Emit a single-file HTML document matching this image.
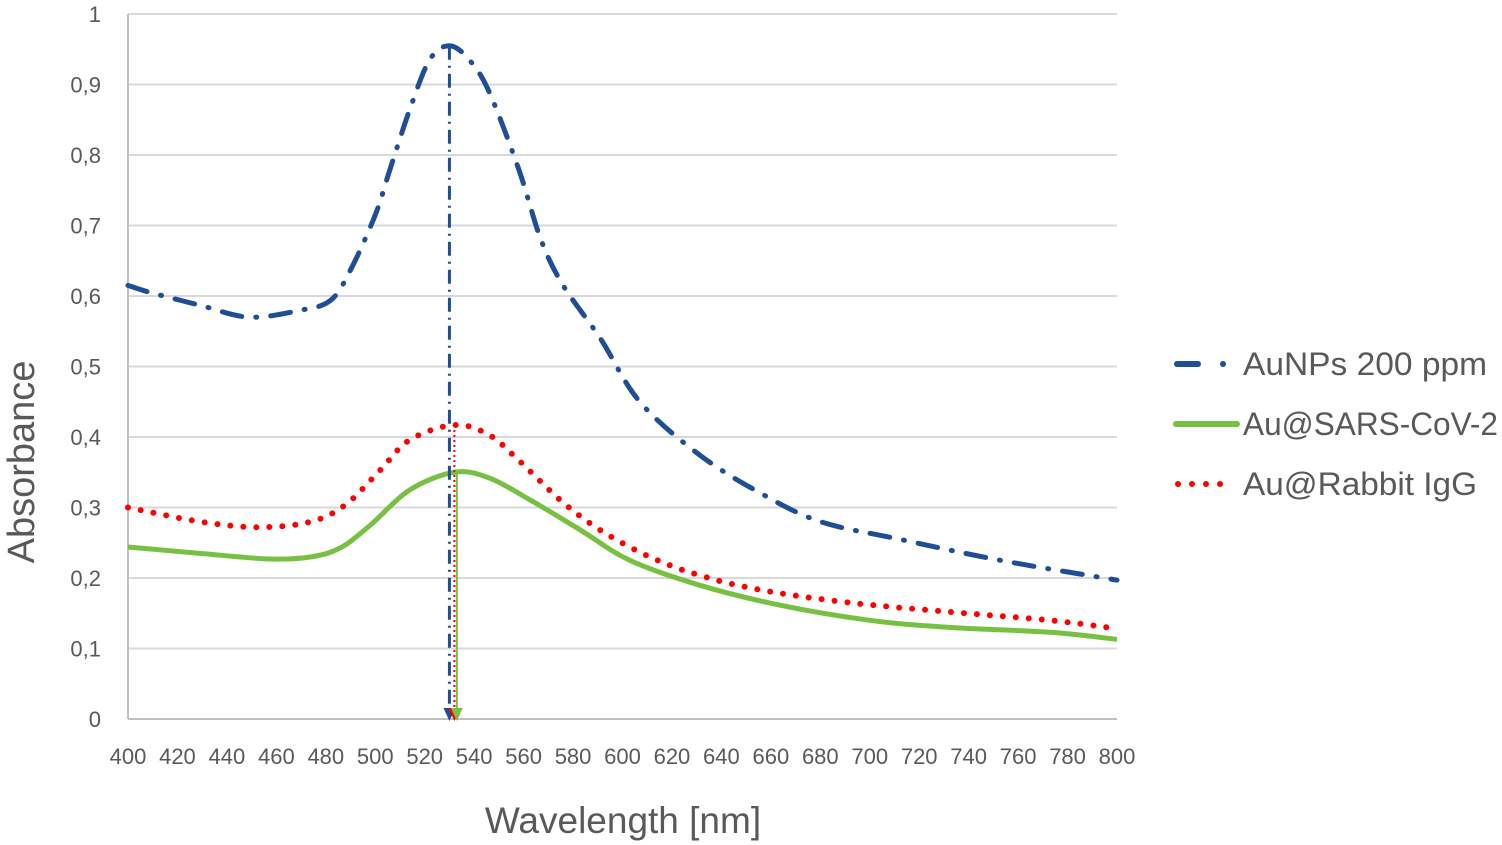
<!DOCTYPE html>
<html><head><meta charset="utf-8"><style>
html,body{margin:0;padding:0;background:#fff;}
svg{display:block;font-family:"Liberation Sans",sans-serif;}
</style></head><body>
<svg id="chart" width="1502" height="845" viewBox="0 0 1502 845">
<g id="grid"></g><g id="ticks"></g><g id="series"></g><g id="markers"></g>
<text x="22" y="462" transform="rotate(-90 22 462)" text-anchor="middle" dominant-baseline="central" font-size="38" fill="#595959">Absorbance</text>
<text x="623" y="833" text-anchor="middle" font-size="37" fill="#595959">Wavelength [nm]</text>
<g>
<g>
<line x1="1177" y1="364" x2="1198" y2="364" stroke="#1f4e96" stroke-width="6" stroke-linecap="round"/>
<circle cx="1223" cy="364" r="3" fill="#1f4e96"/>
<text x="1243" y="375" font-size="32" textLength="244" lengthAdjust="spacingAndGlyphs" fill="#595959">AuNPs 200 ppm</text></g>
<g>
<line x1="1176" y1="424" x2="1237" y2="424" stroke="#77c043" stroke-width="6" stroke-linecap="round"/>
<text x="1243" y="435" font-size="32" textLength="255" lengthAdjust="spacingAndGlyphs" fill="#595959">Au@SARS-CoV-2</text></g>
<g>
<line x1="1178" y1="484" x2="1234" y2="484" stroke="#ff0000" stroke-width="6" stroke-linecap="round" stroke-dasharray="0 14"/>
<text x="1243" y="495" font-size="32" textLength="234" lengthAdjust="spacingAndGlyphs" fill="#595959">Au@Rabbit IgG</text></g>
</g>
</svg>
<script>
const xTicks=[400,420,440,460,480,500,520,540,560,580,600,620,640,660,680,700,720,740,760,780,800];
const yTicks=[0,0.1,0.2,0.3,0.4,0.5,0.6,0.7,0.8,0.9,1];
const yTickLabels=["0","0,1","0,2","0,3","0,4","0,5","0,6","0,7","0,8","0,9","1"];
const blueX=[400,409,429,449,470,482,490,500,506,514,522,530,538,546,558,567,576,591,607,631,656,680,712,753,800];
const blueY=[0.615,0.605,0.587,0.57,0.58,0.594,0.637,0.715,0.78,0.865,0.935,0.955,0.935,0.89,0.78,0.68,0.615,0.54,0.45,0.375,0.32,0.28,0.255,0.225,0.197];
const redX=[400,429,453,474,488,502,514,532,546,558,575,591,611,631,656,692,732,773,800];
const redY=[0.30,0.28,0.272,0.28,0.304,0.353,0.396,0.417,0.403,0.367,0.31,0.268,0.23,0.204,0.183,0.165,0.152,0.14,0.128];
const greenX=[400,429,457,474,486,498,514,532,546,563,583,603,631,663,700,732,773,800];
const greenY=[0.244,0.235,0.227,0.23,0.243,0.275,0.325,0.35,0.342,0.31,0.268,0.225,0.19,0.162,0.14,0.13,0.123,0.113];
const peaks=[530,532,533];
const NS="http://www.w3.org/2000/svg";
const X=v=>128+(v-400)*(1117-128)/400;
const Y=v=>719-v*705;
function mk(tag,attrs,parent){const e=document.createElementNS(NS,tag);for(const k in attrs)e.setAttribute(k,attrs[k]);document.getElementById(parent).appendChild(e);return e;}
yTicks.forEach((t,i)=>{
 const l=mk('line',{x1:128,x2:1117,y1:Y(t),y2:Y(t),stroke:t===0?'#bfbfbf':'#d9d9d9','stroke-width':2},'grid');
 
 
 const tx=mk('text',{x:101,y:Y(t)+8,'text-anchor':'end','font-size':22,fill:'#595959'},'ticks');
 tx.textContent=yTickLabels[i];
 
 
});
const ax=mk('line',{x1:128,x2:128,y1:14,y2:719,stroke:'#bfbfbf','stroke-width':2},'grid');


xTicks.forEach(t=>{
 const tx=mk('text',{x:X(t),y:764,'text-anchor':'middle','font-size':22,fill:'#595959'},'ticks');
 tx.textContent=t;
 
 
});
function path(xs,ys){const p=xs.map((x,i)=>[X(x),Y(ys[i])]);let d='M'+p[0][0]+','+p[0][1];
 for(let i=0;i<p.length-1;i++){const p0=p[i-1]||p[i],p1=p[i],p2=p[i+1],p3=p[i+2]||p2;
 d+=` C${p1[0]+(p2[0]-p0[0])/6},${p1[1]+(p2[1]-p0[1])/6} ${p2[0]-(p3[0]-p1[0])/6},${p2[1]-(p3[1]-p1[1])/6} ${p2[0]},${p2[1]}`;}return d;}
const g=mk('path',{d:path(greenX,greenY),fill:'none',stroke:'#77c043','stroke-width':5},'series');


const r=mk('path',{d:path(redX,redY),fill:'none',stroke:'#ff0000','stroke-width':6,'stroke-linecap':'round','stroke-dasharray':'0 13'},'series');


const b=mk('path',{d:path(blueX,blueY),fill:'none',stroke:'#1f4e96','stroke-width':5,'stroke-linecap':'round','stroke-dasharray':'20 14 1 14'},'series');


const cols=['#1f4e96','#ff0000','#77c043'],dash=['14 6 2 6','2 3',''],tops=[Math.max(...blueY),Math.max(...redY),Math.max(...greenY)];
peaks.forEach((p,i)=>{
 const l=mk('line',{x1:X(p),x2:X(p),y1:Y(tops[i]),y2:712,stroke:cols[i],'stroke-width':i===0?3:2,'stroke-dasharray':dash[i]},'markers');
 
 
 const a=mk('polygon',{points:`${X(p)-6},708 ${X(p)+6},708 ${X(p)},721`,fill:cols[i]},'markers');
 
 
});
</script>
</body></html>
